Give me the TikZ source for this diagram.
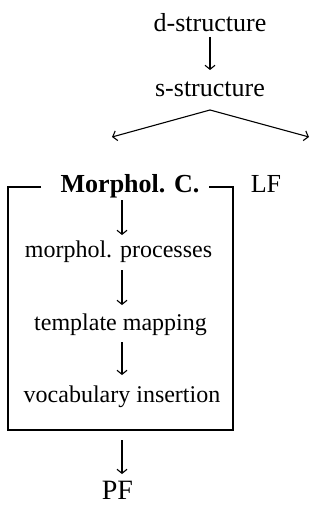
\documentclass[tikz,border=0pt]{standalone}
\usepackage{fontspec}
\setmainfont{Liberation Serif}
\usetikzlibrary{arrows.meta,calc}
\begin{document}
\begin{tikzpicture}[x=1pt,y=-1pt,
  line width=1.1pt,
  arr/.style={-{Straight Barb[length=4pt,width=10pt,line width=1.1pt]}},
  toptext/.style={anchor=base,inner sep=0pt,font=\fontsize{26}{30}\selectfont},
  boxtext/.style={anchor=base,inner sep=0pt,font=\fontsize{24}{28}\selectfont},
  bigtext/.style={anchor=base,inner sep=0pt,font=\fontsize{28}{32}\selectfont}]
\useasboundingbox (0,0) rectangle (334,505);
\node[toptext] (d) at (210,32) {d-structure};
\node[toptext] (s) at (210,97) {s-structure};
\node[toptext,font=\fontsize{26}{30}\selectfont\bfseries] (mc) at (130,192) {Morphol. C.};
\node[toptext] (lf) at (266,192) {LF};
\node[boxtext] (mp) at (118.5,257) {morphol. processes};
\node[boxtext] (tm) at (120.5,330) {template mapping};
\node[boxtext] (vi) at (122,402) {vocabulary insertion};
\node[bigtext] (pf) at (117.5,499) {PF};
\coordinate (apex) at (210,110);
\coordinate (lend) at (112,137);
\coordinate (rend) at (309,137);
\coordinate (tl) at (8,187);
\coordinate (tr) at (233,187);
\coordinate (bl) at (8,430);
\coordinate (br) at (233,430);
\path (mc.west) ++(-19,0) coordinate (ml);
\path (mc.east) ++(9,0) coordinate (mr);
\draw[arr] ($(d.base)+(0,5)$) -- ($(s.base)+(0,-27)$);
\draw[arr] (apex) -- (lend);
\draw[arr] (apex) -- (rend);
\draw[arr] ($(mc.base -| vi.base)+(0,8)$) -- ($(mp.base -| vi.base)+(0,-22)$);
\draw[arr] ($(mp.base -| vi.base)+(0,13)$) -- ($(tm.base -| vi.base)+(0,-25)$);
\draw[arr] ($(tm.base -| vi.base)+(0,12)$) -- ($(vi.base)+(0,-27)$);
\draw[arr] ($(vi.base)+(0,38)$) -- ($(pf.base -| vi.base)+(0,-25)$);
\draw (ml |- tl) -- (tl) -- (bl) -- (br) -- (tr) -- (mr |- tr);
\end{tikzpicture}
\end{document}
